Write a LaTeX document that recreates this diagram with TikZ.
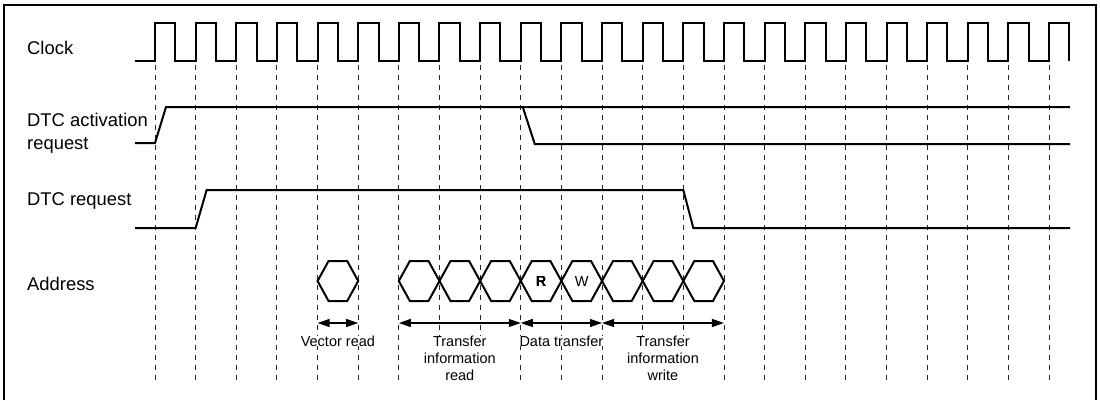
\documentclass[tikz,border=0pt]{standalone}
\usepackage{fontspec}
\setmainfont{Liberation Sans}
\usetikzlibrary{arrows.meta, positioning, calc}
\tikzset{
  signal/.style={line width=2pt, line join=miter},
  grid line/.style={draw=black!85, line width=0.9pt, dash pattern=on 5pt off 5pt},
  sig label/.style={anchor=base west, inner sep=0pt, font=\fontsize{18.4}{23}\selectfont},
  span label/.style={anchor=north, inner sep=0pt, fill=white, align=center, font=\fontsize{14.5}{17.2}\selectfont},
  cell label/.style={inner sep=0pt, font=\fontsize{14.5}{17}\selectfont},
  span/.style={{Triangle[length=12pt,width=8pt]}-{Triangle[length=12pt,width=8pt]}, line width=1.2pt},
  hexbox/.style={line width=2pt, line join=miter}
}
% one address cell between two clock edges
\newcommand\hexcell[2]{%
  \draw[hexbox] ($(t#1)+(0,281)$) -- ($(t#1)+(11,261)$) -- ($(t#2)+(-11,261)$)
    -- ($(t#2)+(0,281)$) -- ($(t#2)+(-11,301)$) -- ($(t#1)+(11,301)$) -- cycle;}

\begin{document}
\begin{tikzpicture}[x=1pt, y=-1pt]
  \useasboundingbox (0,0) rectangle (1100,400);
  \draw[line width=2pt] (4,400) -- (4,5) -- (1096,5) -- (1096,400);

  % rising clock edges
  \foreach \k in {0,...,22}
    \coordinate (t\k) at ({155+40.64*\k},0);
  \foreach \k in {0,...,22}
    \draw[grid line] ($(t\k)+(0,65)$) -- ($(t\k)+(0,380)$);

  % signal names
  \node[sig label] (clk) at (27,54) {Clock};
  \node[sig label] (act) at (27,126.5) {DTC activation};
  \node[sig label] (act2) at ($(act.base west)+(0,22.8)$) {request};
  \node[sig label] (req) at (27,205.5) {DTC request};
  \node[sig label] (addr) at (27,290) {Address};

  % waveforms
  \draw[signal] (135,61) \foreach \k in {0,...,22}{
      -- ($(t\k)+(0,61)$) -- ++(0,-38) -- ++(20.3,0) -- ++(0,38)};
  \draw[signal] (135,143) -- ($(t0)+(0,143)$) -- ($(t0)+(11,107)$) -- (1070,107);
  \draw[signal] ($(t9)+(2,107)$) -- ($(t9)+(14,144)$) -- (1070,144);
  \draw[signal] (135,228) -- ($(t1)+(0,228)$) -- ($(t1)+(11,190)$)
    -- ($(t13)+(0,190)$) -- ($(t13)+(10,228)$) -- (1070,228);

  % address cells
  \hexcell{4}{5}
  \foreach \k [evaluate=\k as \n using int(\k+1)] in {6,...,13}
    \hexcell{\k}{\n}
  \node[cell label] (rd) at ($(t9)!0.5!(t10)+(0,282)$) {R};
  \node[cell label] (wr) at ($(t10)!0.5!(t11)+(0,282)$) {W};

  % phases
  \foreach \k in {4,5,6,9,11,14}
    \coordinate (m\k) at ($(t\k)+(0,323)$);
  \draw[span] (m4) -- (m5);
  \draw[span] (m6) -- (m9);
  \draw[span] (m9) -- (m11);
  \draw[span] (m11) -- (m14);
  \node[span label] (vrd) at ($(m4)!0.5!(m5)+(0,12.5)$) {Vector read};
  \node[span label] (tird) at ($(m6)!0.5!(m9)+(0,12.5)$) {Transfer\\information\\read};
  \node[span label] (dtr) at ($(m9)!0.5!(m11)+(0,12.5)$) {Data transfer};
  \node[span label] (tiwr) at ($(m11)!0.5!(m14)+(0,12.5)$) {Transfer\\information\\write};
\end{tikzpicture}
\end{document}
